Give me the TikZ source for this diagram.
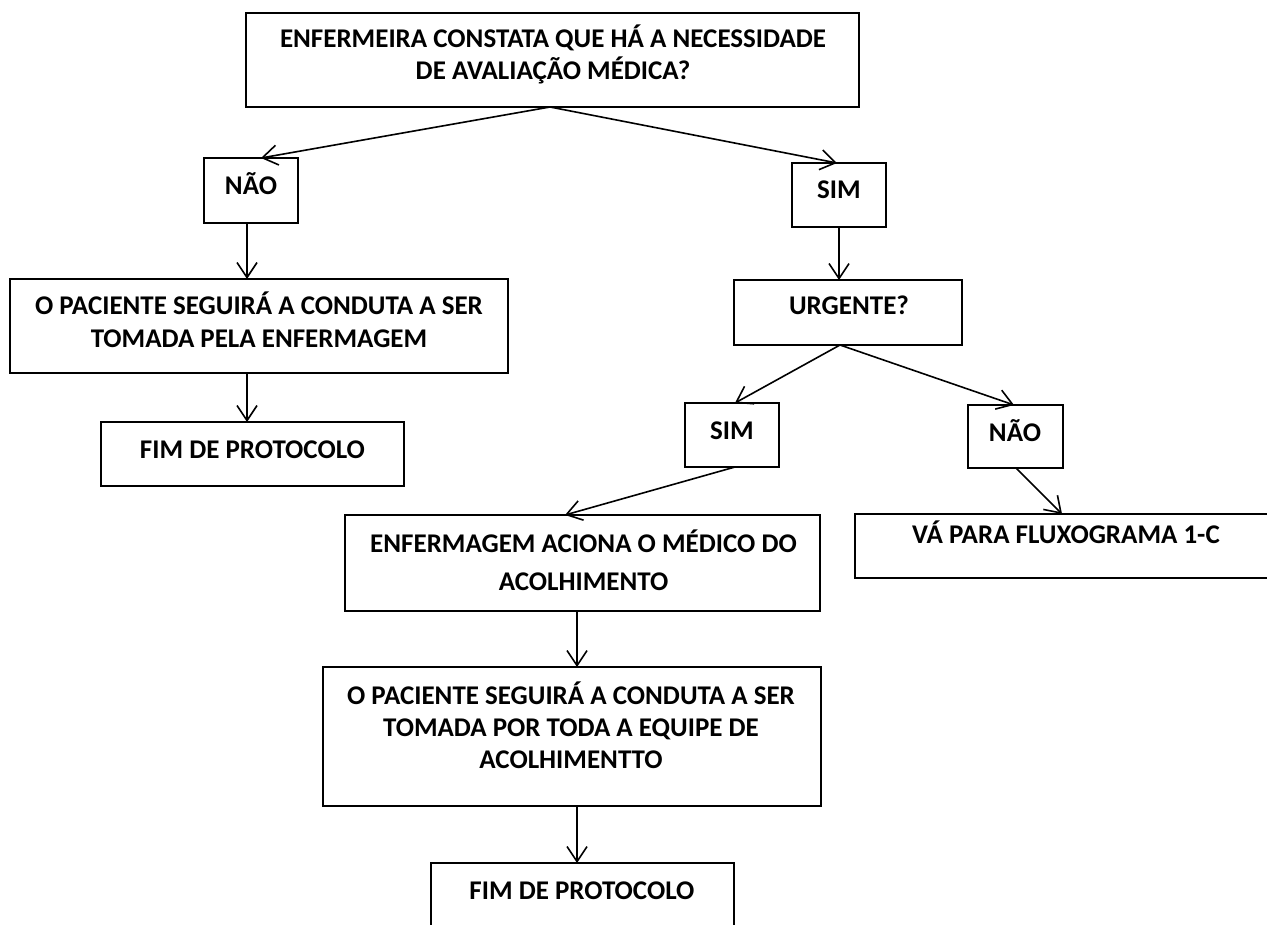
\documentclass[tikz,border=0pt]{standalone}
\usepackage{fontspec}
\setmainfont{Carlito}
\usetikzlibrary{arrows.meta}
\begin{document}
\begin{tikzpicture}[x=1pt,y=-1pt,
  box/.style={draw, line width=2pt, inner sep=0pt, outer sep=0pt, anchor=north west},
  txt/.style={anchor=base, inner sep=0pt, font=\bfseries\fontsize{27}{32}\selectfont},
  conn/.style={line width=1.6pt, -{Straight Barb[length=15pt,width=20pt]}}]
\useasboundingbox (0,0) rectangle (1267,925);
\fill[white] (0,0) rectangle (1267,925);
\clip (0,0) rectangle (1267,925);
% boxes
\node[box, minimum width=613pt, minimum height=94pt] (top) at (246,13) {};
\node[box, minimum width=94pt, minimum height=65pt] (nao1) at (204,158) {};
\node[box, minimum width=94pt, minimum height=64pt] (sim1) at (792,163) {};
\node[box, minimum width=498pt, minimum height=94pt] (cond1) at (10,279) {};
\node[box, minimum width=303pt, minimum height=64pt] (fim1) at (101,422) {};
\node[box, minimum width=228pt, minimum height=65pt] (urg) at (734,280) {};
\node[box, minimum width=94pt, minimum height=64pt] (sim2) at (685,403) {};
\node[box, minimum width=95pt, minimum height=63pt] (nao2) at (968,405) {};
\node[box, minimum width=475pt, minimum height=96pt] (enf) at (345,515) {};
\node[box, minimum width=435pt, minimum height=64pt] (va) at (855,514) {};
\node[box, minimum width=498pt, minimum height=139pt] (cond2) at (323,667) {};
\node[box, minimum width=303pt, minimum height=80pt] (fim2) at (431,863) {};
% texts
\node[txt] (ttop) at (553,48) {\parbox[t]{700pt}{\centering\fontsize{27}{32}\selectfont ENFERMEIRA CONSTATA QUE HÁ A NECESSIDADE\\DE AVALIAÇÃO MÉDICA?}};
\node[txt] (tnao1) at (251,195) {NÃO};
\node[txt] (tsim1) at (839,199) {SIM};
\node[txt] (tcond1) at (259,315) {\parbox[t]{560pt}{\centering\fontsize{27}{33}\selectfont O PACIENTE SEGUIRÁ A CONDUTA A SER\\TOMADA PELA ENFERMAGEM}};
\node[txt] (tfim1) at (252.5,458) {FIM DE PROTOCOLO};
\node[txt] (turg) at (849,315) {URGENTE?};
\node[txt] (tsim2) at (732,439) {SIM};
\node[txt] (tnao2) at (1015,441) {NÃO};
\node[txt] (tenf) at (583.5,552) {\parbox[t]{540pt}{\centering\fontsize{27}{38}\selectfont ENFERMAGEM ACIONA O MÉDICO DO\\ACOLHIMENTO}};
\node[txt] (tva) at (1066,543) {VÁ PARA FLUXOGRAMA 1-C};
\node[txt] (tcond2) at (571,704) {\parbox[t]{560pt}{\centering\fontsize{27}{32}\selectfont O PACIENTE SEGUIRÁ A CONDUTA A SER\\TOMADA POR TODA A EQUIPE DE\\ACOLHIMENTTO}};
\node[txt] (tfim2) at (582,899) {FIM DE PROTOCOLO};
% connectors
\draw[conn] ([xshift=-2.5pt]top.south) -- ([xshift=10pt]nao1.north);
\draw[conn] ([xshift=-2.5pt]top.south) -- ([xshift=-2pt]sim1.north);
\draw[conn] ([xshift=-4pt]nao1.south) -- ([xshift=-12pt]cond1.north);
\draw[conn] ([xshift=-12pt]cond1.south) -- ([xshift=-5.5pt]fim1.north);
\draw[conn] (sim1.south) -- ([xshift=-9pt]urg.north);
\draw[conn] ([xshift=-8pt]urg.south) -- ([xshift=3pt]sim2.north);
\draw[conn] ([xshift=-8pt]urg.south) -- ([xshift=-1.5pt]nao2.north);
\draw[conn] ([xshift=3pt]sim2.south) -- ([xshift=-17.5pt]enf.north);
\draw[conn] ([xshift=0.5pt]nao2.south) -- ([xshift=-10.5pt]va.north);
\draw[conn] ([xshift=-5.5pt]enf.south) -- ([xshift=5pt]cond2.north);
\draw[conn] ([xshift=5pt]cond2.south) -- ([xshift=-5.5pt]fim2.north);
\end{tikzpicture}
\end{document}
